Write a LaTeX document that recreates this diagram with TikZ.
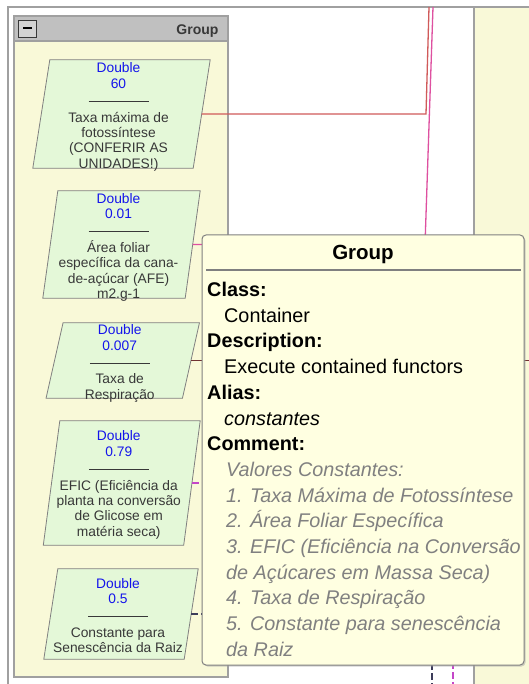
\documentclass[tikz,border=0pt]{standalone}
\usepackage{fontspec}
\setmainfont{Liberation Sans}
\usetikzlibrary{shadows}
\definecolor{panelyellow}{RGB}{249,249,216}
\definecolor{headgray}{RGB}{192,192,192}
\definecolor{boxgreen}{RGB}{228,248,216}
\definecolor{tipyellow}{RGB}{255,255,225}
\definecolor{framegray}{RGB}{160,160,160}
\definecolor{dblue}{RGB}{20,20,235}
\definecolor{dgray}{RGB}{56,56,56}
\definecolor{cgray}{RGB}{128,128,128}
\definecolor{linkred}{RGB}{208,90,90}
\definecolor{linkpink}{RGB}{222,80,160}
\definecolor{linkbrown}{RGB}{112,50,50}
\definecolor{linkviolet}{RGB}{196,70,200}
\definecolor{linkdark}{RGB}{60,60,90}

\begin{document}
\begin{tikzpicture}[
    x=1pt, y=-1pt,
    frame/.style={draw=framegray, line width=1.5pt},
    pbox/.style={rectangle, inner sep=0pt},
    pline/.style={draw=gray, fill=boxgreen, line width=0.8pt},
    ptext/.style={align=center, inner sep=0pt, text=dgray, font=\fontsize{13.8}{15.4}\selectfont},
    link/.style={line width=1.3pt},
    tipbox/.style={rectangle, rounded corners=4pt, draw=gray, fill=tipyellow, line width=1pt, drop shadow={shadow xshift=1.5pt, shadow yshift=-1.5pt, fill=gray!70}},
    tiptext/.style={align=left, inner sep=0pt, font=\fontsize{19.8}{25.7}\selectfont}
]
    \useasboundingbox (0,0) rectangle (529,684);
    \fill[white] (0,0) rectangle (529,684);

    % Window frame and right panel
    \fill[panelyellow] (474,7) rectangle (529,684);
    \draw[frame] (474,7) -- (474,684);
    \draw[frame] (8,684) -- (8,7) -- (529,7);

    % Group container
    \draw[draw=framegray, line width=1.2pt, fill=panelyellow] (14,16) rectangle (228,677);
    \draw[draw=framegray, line width=1.2pt, fill=headgray] (14,16) rectangle (228,41);
    \node[draw=dgray, fill=headgray!70, minimum width=18pt, minimum height=17pt, inner sep=0pt] (minus) at (27.5,28.5) {\rule{9pt}{2pt}};
    \node[anchor=base east, text=dgray, font=\fontsize{14}{16}\selectfont\bfseries] (grouplabel) at (222,35) {Group};

    % Constants (Double)
    \node[pbox, minimum width=160pt, minimum height=108pt] (p1) at (121.5,114) {};
    \node[pbox, minimum width=142pt, minimum height=107pt] (p2) at (121.5,244.5) {};
    \node[pbox, minimum width=136pt, minimum height=75pt] (p3) at (122.75,360.5) {};
    \node[pbox, minimum width=140pt, minimum height=124pt] (p4) at (121.75,483) {};
    \node[pbox, minimum width=140pt, minimum height=90pt] (p5) at (121,614) {};
    \foreach \p/\s in {p1/8.5, p2/7.5, p3/8.5, p4/8.25, p5/7}
        \draw[pline] ([xshift=\s pt]\p.north west) -- ([xshift=\s pt]\p.north east)
            -- ([xshift=-\s pt]\p.south east) -- ([xshift=-\s pt]\p.south west) -- cycle;

    \node[ptext] (t1) at ([xshift=-3pt,yshift=-3pt]p1.center) {\textcolor{dblue}{Double}\\\textcolor{dblue}{60}\\[-2pt]\rule{60pt}{1pt}\\[5pt]Taxa máxima de\\fotossíntese\\(CONFERIR AS\\UNIDADES!)};
    \node[ptext] (t2) at ([xshift=-3pt,yshift=-3pt]p2.center) {\textcolor{dblue}{Double}\\\textcolor{dblue}{0.01}\\[-2pt]\rule{60pt}{1pt}\\[5pt]Área foliar\\específica da cana-\\de-açúcar (AFE)\\m2.g-1};
    \node[ptext] (t3) at ([xshift=-3pt,yshift=-3pt]p3.center) {\textcolor{dblue}{Double}\\\textcolor{dblue}{0.007}\\[-2pt]\rule{60pt}{1pt}\\[5pt]Taxa de\\Respiração};
    \node[ptext] (t4) at ([xshift=-3pt,yshift=-2pt]p4.center) {\textcolor{dblue}{Double}\\\textcolor{dblue}{0.79}\\[-2pt]\rule{60pt}{1pt}\\[5pt]EFIC (Eficiência da\\planta na conversão\\de Glicose em\\matéria seca)};
    \node[ptext] (t5) at ([xshift=-3pt,yshift=-1.5pt]p5.center) {\textcolor{dblue}{Double}\\\textcolor{dblue}{0.5}\\[-2pt]\rule{60pt}{1pt}\\[5pt]Constante para\\Senescência da Raiz};

    % Links to the model
    \coordinate (r1) at (426,114);
    \coordinate (r1top) at (429,7);
    \coordinate (r2) at (425,244.5);
    \coordinate (r2top) at (433,7);
    \coordinate (r3) at (529,360.5);
    \coordinate (r4) at (453,483);
    \coordinate (r4end) at (453,684);
    \coordinate (r5) at (432,614);
    \coordinate (r5end) at (432,684);
    \draw[link, linkred] (p1.east) -- (r1) -- (r1top);
    \draw[link, linkpink] (p2.east) -- (r2) -- (r2top);
    \draw[link, linkbrown] (p3.east) -- (r3);
    \draw[link, linkviolet, dash pattern=on 7pt off 3pt] (p4.east) -- (r4) -- (r4end);
    \draw[link, linkdark, dash pattern=on 7pt off 3pt] (p5.east) -- (r5) -- (r5end);

    % Tooltip
    \node[tipbox, minimum width=322pt, minimum height=430pt] (tip) at (363,450) {};
    \node[anchor=base, font=\fontsize{20.5}{24}\selectfont\bfseries] (tiptitle) at (363,259) {Group};
    \draw[draw=gray, line width=2pt] (206,270) -- (521,270);
    \node[tiptext, anchor=north west] (tipinfo) at (207,282) {\textbf{Class:}\\
        \hspace*{17pt}Container\\
        \textbf{Description:}\\
        \hspace*{17pt}Execute contained functors\\
        \textbf{Alias:}\\
        \hspace*{17pt}\textit{constantes}\\
        \textbf{Comment:}\\
        \hspace*{19pt}\textcolor{cgray}{\textit{Valores Constantes:}}\\
        \hspace*{19pt}\textcolor{cgray}{\textit{1. Taxa Máxima de Fotossíntese}}\\
        \hspace*{19pt}\textcolor{cgray}{\textit{2. Área Foliar Específica}}\\
        \hspace*{19pt}\textcolor{cgray}{\textit{3. EFIC (Eficiência na Conversão}}\\
        \hspace*{19pt}\textcolor{cgray}{\textit{de Açúcares em Massa Seca)}}\\
        \hspace*{19pt}\textcolor{cgray}{\textit{4. Taxa de Respiração}}\\
        \hspace*{19pt}\textcolor{cgray}{\textit{5. Constante para senescência}}\\
        \hspace*{19pt}\textcolor{cgray}{\textit{da Raiz}}};
\end{tikzpicture}
\end{document}
